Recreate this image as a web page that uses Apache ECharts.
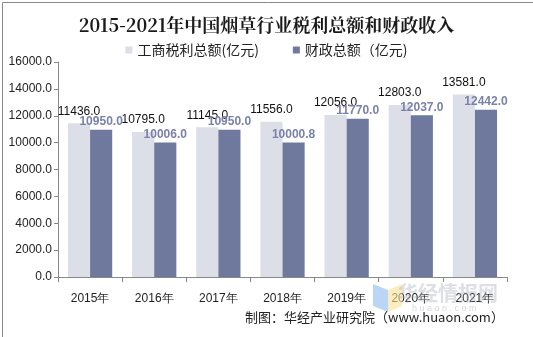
<!DOCTYPE html>
<html><head><meta charset="utf-8">
<script src="https://cdn.jsdelivr.net/npm/echarts@6/dist/echarts.min.js"></script>
<style>html,body{margin:0;padding:0;background:#fff}#c{width:533px;height:337px}</style>
</head><body><div id="c"></div>
<script>
const categories = ['2015年','2016年','2017年','2018年','2019年','2020年','2021年'];
const taxProfit = [11436.0,10795.0,11145.0,11556.0,12056.0,12803.0,13581.0];
const fiscal = [10950.0,10006.0,10950.0,10000.8,11770.0,12037.0,12442.0];
const seriesNames = ['工商税利总额(亿元)','财政总额（亿元)'];
const title = '2015-2021年中国烟草行业税利总额和财政收入';
const source = '制图：华经产业研究院（www.huaon.com）';

const chart = echarts.init(document.getElementById('c'), null, {renderer:'canvas'});
const font = '"Noto Sans CJK SC", "Liberation Sans", sans-serif';
chart.setOption({
  animation:false,
  backgroundColor:'#fff',
  title:{text:title,left:'center',top:11,textStyle:{fontFamily:'"Noto Serif CJK SC","Liberation Serif",serif',fontSize:18,fontWeight:'bold',color:'#1a1a1a'}},
  legend:{top:38,left:'center',itemWidth:7,itemHeight:7,itemGap:34,icon:'rect',
    textStyle:{fontFamily:font,fontSize:14,color:'#222'},data:seriesNames},
  grid:{left:58,right:26,top:62,bottom:60,containLabel:false},
  xAxis:{type:'category',data:categories,
    axisLine:{lineStyle:{color:'#888'}},axisTick:{show:true,length:5,lineStyle:{color:'#888'}},
    axisLabel:{fontFamily:'"Liberation Sans",sans-serif',fontSize:12,color:'#222',margin:16}},
  yAxis:{type:'value',min:0,max:16000,interval:2000,
    axisLine:{show:true,lineStyle:{color:'#888'}},axisTick:{show:true,length:4,lineStyle:{color:'#888'}},
    splitLine:{show:false},
    axisLabel:{fontFamily:'"Liberation Sans",sans-serif',fontSize:12,color:'#222',margin:6,formatter:v=>v.toFixed(1)}},
  series:[
    {name:seriesNames[0],type:'bar',data:taxProfit,barGap:'0%',barCategoryGap:'31%',
     itemStyle:{color:'#dcdfe8'},
     label:{show:true,position:'top',distance:6,fontFamily:'"Liberation Sans",sans-serif',fontSize:12,color:'#111',formatter:p=>p.value.toFixed(1)}},
    {name:seriesNames[1],type:'bar',data:fiscal,
     itemStyle:{color:'#6f799d'},
     label:{show:true,position:'top',distance:2,fontFamily:'"Liberation Sans",sans-serif',fontSize:12,fontWeight:'bold',color:'#7b81a9',formatter:p=>p.value.toFixed(1)}}
  ],
  graphic:[
    {type:'rect',left:0,top:0,shape:{x:0,y:0,width:532,height:336},style:{fill:'none',stroke:'#888',lineWidth:1},z:100},
    {type:'polygon',shape:{points:[[373,284],[388,290],[388,312],[373,306]]},style:{fill:'rgba(140,185,240,0.6)'},z:40},
    {type:'polygon',shape:{points:[[388,290],[402,284],[402,306],[388,312]]},style:{fill:'rgba(250,225,150,0.6)'},z:40},
    {type:'text',left:398,top:283,style:{text:'华经情报网',font:'bold 20px "Noto Sans CJK SC", sans-serif',fill:'rgba(170,175,190,0.4)'},z:50},
    {type:'text',left:412,top:304,style:{text:'h u a o n . c o m',font:'9px "Liberation Sans", sans-serif',fill:'rgba(170,175,190,0.5)'},z:50},
    {type:'text',left:245,top:311,style:{text:source,font:'13px "Noto Sans CJK SC", sans-serif',fill:'#222'},z:60}
  ]
});
</script></body></html>
